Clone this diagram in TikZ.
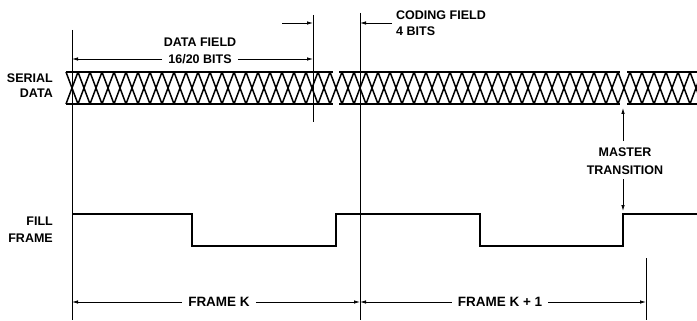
\documentclass[tikz,border=0pt]{standalone}
\usepackage{fontspec}
\setmainfont{Liberation Sans}
\usetikzlibrary{arrows.meta}
\begin{document}
\begin{tikzpicture}[x=1pt,y=-1pt,
  lbl/.style={font=\fontsize{12.5}{14}\selectfont\bfseries, inner sep=0pt},
  flbl/.style={font=\fontsize{13.5}{15}\selectfont\bfseries, inner sep=0pt},
  guide/.style={line width=0.8pt},
  dim/.style={line width=0.8pt, -{Latex[length=6pt,width=3.5pt]}},
  bandedge/.style={line width=1.9pt},
  eye/.style={line width=1.5pt},
  sig/.style={line width=1.9pt, line join=miter}]
\useasboundingbox (0,0) rectangle (697,321);

% guide lines
\coordinate (gL) at (72,30);   \coordinate (gLb) at (72,320);
\coordinate (gC) at (360,13);  \coordinate (gCb) at (360,320);
\coordinate (gD) at (313,15);  \coordinate (gDb) at (313,122);
\coordinate (gR) at (646,258); \coordinate (gRb) at (646,320);
\draw[guide] (gL) -- (gLb);
\draw[guide] (gC) -- (gCb);
\draw[guide] (gD) -- (gDb);
\draw[guide] (gR) -- (gRb);

% serial data band
\begin{scope}
\clip (0,0) rectangle (697,321);
\foreach \k in {0,...,52} {
  \pgfmathsetmacro\b{72+12*\k}
  \draw[eye] (\b-6,72) -- (\b+6,104) (\b-6,104) -- (\b+6,72);
}
\draw[bandedge] (66,72) -- (333,72) (339,72) -- (620,72) (627,72) -- (697,72);
\draw[bandedge] (66,104) -- (333,104) (339,104) -- (620,104) (627,104) -- (697,104);
\end{scope}

% fill frame waveform
\draw[sig] (72,214) -- (192,214) -- (192,246) -- (336,246) -- (336,214)
  -- (480,214) -- (480,246) -- (623,246) -- (623,214) -- (697,214);

% labels
\node[lbl, anchor=east] (sd1) at (53,78) {SERIAL};
\node[lbl, anchor=east] (sd2) at (53,93) {DATA};
\node[lbl, anchor=east] (ff1) at (53,221) {FILL};
\node[lbl, anchor=east] (ff2) at (53,238) {FRAME};

% data field
\node[lbl] (df1) at (200,42) {DATA FIELD};
\node[lbl, inner xsep=6pt] (df2) at (200,59) {16/20 BITS};
\draw[dim] (df2.west) -- (gL |- df2.west);
\draw[dim] (df2.east) -- (gD |- df2.east);
\coordinate (ta) at (282,23);
\draw[dim] (ta) -- (gD |- ta);

% coding field
\node[lbl, anchor=west] (cf1) at (396,15) {CODING FIELD};
\node[lbl, anchor=west] (cf2) at (396,31) {4 BITS};
\coordinate (cfa) at (392,23);
\draw[dim] (cfa) -- (gC |- cfa);

% master transition
\node[lbl] (m1) at (625,152) {MASTER};
\node[lbl] (m2) at (625,170) {TRANSITION};
\coordinate (mu) at (623,141); \coordinate (mt) at (623,108);
\coordinate (md) at (623,179); \coordinate (mb) at (623,211);
\draw[dim] (mu) -- (mt);
\draw[dim] (md) -- (mb);

% frames
\node[flbl, inner xsep=6pt] (fk) at (219,302) {FRAME K};
\draw[dim] (fk.west) -- (gL |- fk.west);
\draw[dim] (fk.east) -- (gC |- fk.east);
\node[flbl, inner xsep=6pt] (fk1) at (500,302) {FRAME K + 1};
\draw[dim] (fk1.west) -- (gC |- fk1.west);
\draw[dim] (fk1.east) -- (gR |- fk1.east);
\end{tikzpicture}
\end{document}
